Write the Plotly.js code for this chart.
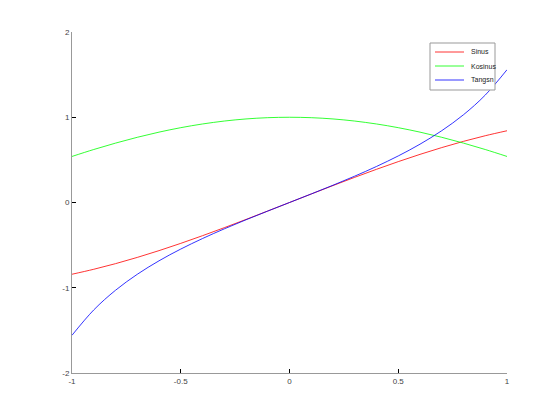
<!DOCTYPE html>
<html><head><meta charset="utf-8">
<script src="https://cdn.plot.ly/plotly-3.0.1.min.js"></script>
<style>body{margin:0;background:#fff}#plot{width:560px;height:420px}</style>
</head><body><div id="plot"></div>
<script>
const xValues = [-1.0,-0.9,-0.8,-0.7,-0.6,-0.5,-0.4,-0.3,-0.2,-0.1,0.0,0.1,0.2,0.3,0.4,0.5,0.6,0.7,0.8,0.9,1.0];
const sinusValues = [-0.8415,-0.7833,-0.7174,-0.6442,-0.5646,-0.4794,-0.3894,-0.2955,-0.1987,-0.0998,0.0,0.0998,0.1987,0.2955,0.3894,0.4794,0.5646,0.6442,0.7174,0.7833,0.8415];
const kosinusValues = [0.5403,0.6216,0.6967,0.7648,0.8253,0.8776,0.9211,0.9553,0.9801,0.9950,1.0,0.9950,0.9801,0.9553,0.9211,0.8776,0.8253,0.7648,0.6967,0.6216,0.5403];
const tangensValues = [-1.5574,-1.2602,-1.0296,-0.8423,-0.6841,-0.5463,-0.4228,-0.3093,-0.2027,-0.1003,0.0,0.1003,0.2027,0.3093,0.4228,0.5463,0.6841,0.8423,1.0296,1.2602,1.5574];
const seriesNames = ["Sinus","Kosinus","Tangsn"];
const seriesColors = ['#ff0000','#00ff00','#0000ff'];
const xTicks = [-1,-0.5,0,0.5,1];
const yTicks = [-2,-1,0,1,2];

const mk = (y, name, color) => ({x: xValues, y: y, name: name, type: 'scatter', mode: 'lines',
  line: {color: color, width: 0.8, shape: 'spline', smoothing: 1}, showlegend: false});
const data = [
  mk(sinusValues, seriesNames[0], seriesColors[0]),
  mk(kosinusValues, seriesNames[1], seriesColors[1]),
  mk(tangensValues, seriesNames[2], seriesColors[2])
];
const fontFam = 'Liberation Sans, Arial, sans-serif';
const axisCommon = {showgrid: false, zeroline: false, showline: true, linecolor: '#999', linewidth: 1,
  ticks: 'inside', ticklen: 4, tickcolor: '#000', tickfont: {family: fontFam, size: 8, color: '#444'}, mirror: false};

// manual legend box (pixel layout converted to paper coords)
const L = 72, T = 32, W = 435, H = 341;
const px = p => (p - L) / W;
const py = p => (T + H - p) / H;
const shapes = [{type: 'rect', xref: 'paper', yref: 'paper', x0: px(430), x1: px(495), y0: py(90), y1: py(43),
  line: {color: '#999', width: 1}, fillcolor: '#fff', layer: 'above'}];
const annotations = [];
const rowY = [52, 66, 80];
seriesNames.forEach((n, i) => {
  shapes.push({type: 'line', xref: 'paper', yref: 'paper', x0: px(435), x1: px(464), y0: py(rowY[i]), y1: py(rowY[i]),
    line: {color: seriesColors[i], width: 0.8}, layer: 'above'});
  annotations.push({xref: 'paper', yref: 'paper', x: px(469), y: py(rowY[i]), xanchor: 'left', yanchor: 'middle',
    text: n, showarrow: false, font: {family: fontFam, size: 7, color: '#222'}});
});

const layout = {
  width: 560, height: 420,
  margin: {l: L, r: 560 - L - W, t: T, b: 420 - T - H},
  paper_bgcolor: '#fff', plot_bgcolor: '#fff',
  xaxis: Object.assign({}, axisCommon, {range: [-1, 1], tickvals: xTicks, ticktext: xTicks.map(String)}),
  yaxis: Object.assign({}, axisCommon, {range: [-2, 2], tickvals: yTicks, ticktext: yTicks.map(String)}),
  showlegend: false,
  shapes: shapes,
  annotations: annotations
};
Plotly.newPlot('plot', data, layout, {staticPlot: true});
</script></body></html>
